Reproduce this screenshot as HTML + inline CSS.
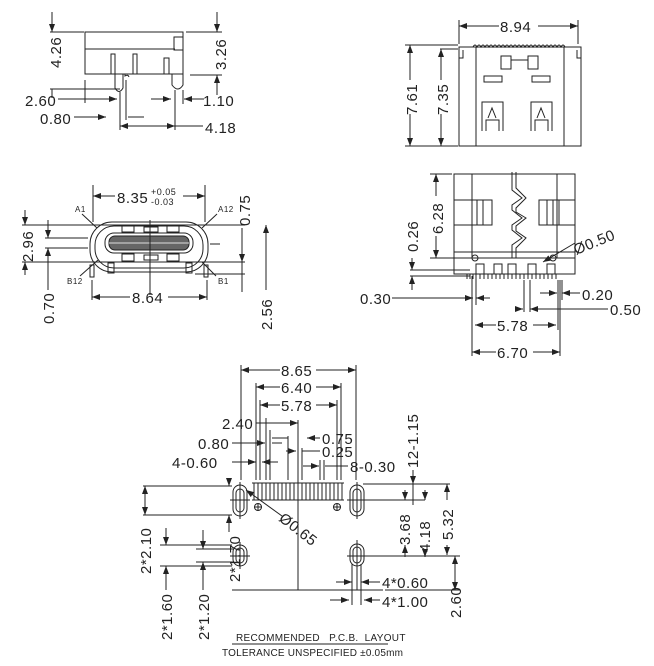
<!DOCTYPE html>
<html><head><meta charset="utf-8"><style>
html,body{margin:0;padding:0;background:#fff;width:654px;height:666px;overflow:hidden}
svg{display:block}
text{font-family:"Liberation Sans",sans-serif;fill:#222;font-size:15px;letter-spacing:0.5px}
.s{font-size:7px}
line,rect,path,ellipse,circle,polyline{stroke:#222;stroke-width:1;fill:none}
</style></head><body>
<svg width="654" height="666" viewBox="0 0 654 666">
<defs><marker id="a" markerWidth="8" markerHeight="6" refX="8" refY="3" orient="auto-start-reverse"><path d="M0,0 L8,3 L0,6 z" style="fill:#222;stroke:none"/></marker></defs>

<!-- TOP LEFT side view -->
<rect x="85" y="32" width="98" height="42"/>
<line x1="85" y1="49" x2="175" y2="49"/>
<rect x="174" y="37" width="9" height="13"/>
<rect x="111" y="54" width="4" height="20"/><rect x="133" y="54" width="4" height="20"/>
<rect x="164" y="58" width="5" height="16"/>
<path d="M115,74 L115,88 Q119,95 123,88 L123,74 M125,74 L125,76 Q128,74 129,77"/>
<path d="M172,74 L172,85 Q178,93 183,85 L183,74"/>
<line x1="50" y1="32" x2="84" y2="32"/><line x1="186" y1="32" x2="222" y2="32"/>
<line x1="52" y1="12" x2="52" y2="32" marker-end="url(#a)"/><line x1="52" y1="89" x2="52" y2="98"/>
<line x1="50" y1="89" x2="120" y2="89"/>
<text transform="translate(61,68) rotate(-90)">4.26</text>
<line x1="217" y1="12" x2="217" y2="32" marker-end="url(#a)"/>
<line x1="190" y1="75" x2="222" y2="75"/><line x1="217" y1="95" x2="217" y2="75" marker-end="url(#a)"/>
<text transform="translate(226,70) rotate(-90)">3.26</text>
<text x="25" y="106">2.60</text><line x1="58" y1="99" x2="98" y2="99"/>
<line x1="85" y1="80" x2="85" y2="103"/><line x1="98" y1="99" x2="117" y2="99" marker-end="url(#a)"/>
<text x="40" y="124">0.80</text><line x1="74" y1="117" x2="106" y2="117" marker-end="url(#a)"/>
<line x1="120" y1="92" x2="120" y2="130"/><line x1="126" y1="80" x2="126" y2="120"/>
<line x1="128" y1="117" x2="144" y2="117"/>
<line x1="151" y1="99" x2="171" y2="99" marker-end="url(#a)"/><line x1="204" y1="99" x2="184" y2="99" marker-end="url(#a)"/>
<line x1="175" y1="90" x2="175" y2="130"/><line x1="183" y1="90" x2="183" y2="104"/>
<text x="203" y="106">1.10</text>
<line x1="120" y1="126" x2="175" y2="126" marker-start="url(#a)" marker-end="url(#a)"/>
<line x1="175" y1="126" x2="203" y2="126"/><text x="205" y="133">4.18</text>

<!-- BOTTOM LEFT front view -->
<rect x="90" y="222" width="118" height="50" rx="22"/>
<rect x="95" y="226" width="108" height="42" rx="19"/>
<rect x="105" y="233" width="88" height="20" rx="9"/>
<rect x="109" y="236" width="80" height="14" rx="6" style="fill:#666"/>
<line x1="109" y1="243" x2="189" y2="243" style="stroke:#ddd"/>
<rect x="122" y="225" width="12" height="7"/><rect x="144" y="227" width="14" height="5"/><rect x="167" y="225" width="12" height="7"/>
<rect x="122" y="254" width="12" height="7"/><rect x="144" y="255" width="14" height="5"/><rect x="167" y="254" width="12" height="7"/>
<rect x="108" y="263" width="6" height="10"/><rect x="186" y="263" width="6" height="10"/>
<rect x="90" y="265" width="4" height="12"/><rect x="204" y="265" width="4" height="12"/>
<line x1="150" y1="220" x2="150" y2="295"/>
<line x1="93" y1="185" x2="93" y2="222"/><line x1="205" y1="185" x2="205" y2="222"/>
<line x1="93" y1="196" x2="115" y2="196" marker-start="url(#a)"/><line x1="183" y1="196" x2="205" y2="196" marker-end="url(#a)"/>
<text x="117" y="203">8.35</text><text class="s" x="151" y="195" style="font-size:9px">+0.05</text><text x="151" y="205" style="font-size:9px">-0.03</text>
<text x="75" y="212" style="font-size:8px">A1</text><line x1="82" y1="214" x2="97" y2="228"/>
<text x="218" y="212" style="font-size:8px">A12</text><line x1="217" y1="214" x2="202" y2="228"/>
<text x="67" y="284" style="font-size:8px">B12</text><line x1="80" y1="276" x2="98" y2="260"/>
<text x="218" y="284" style="font-size:8px">B1</text><line x1="216" y1="276" x2="202" y2="262"/>
<line x1="22" y1="225" x2="245" y2="225"/><line x1="22" y1="262" x2="245" y2="262"/>
<line x1="25" y1="210" x2="25" y2="225" marker-end="url(#a)"/><line x1="25" y1="275" x2="25" y2="262" marker-end="url(#a)"/>
<text transform="translate(33,262) rotate(-90)">2.96</text>
<line x1="45" y1="238" x2="88" y2="238"/><line x1="45" y1="248" x2="88" y2="248"/>
<line x1="48" y1="220" x2="48" y2="238" marker-end="url(#a)"/><line x1="48" y1="264" x2="48" y2="248" marker-end="url(#a)"/>
<line x1="48" y1="264" x2="48" y2="290"/>
<text transform="translate(54,324) rotate(-90)">0.70</text>
<line x1="210" y1="244" x2="220" y2="244"/>
<line x1="242" y1="228" x2="242" y2="262" marker-end="url(#a)"/><line x1="242" y1="262" x2="242" y2="292"/>
<line x1="195" y1="274" x2="245" y2="274"/>
<text transform="translate(250,226) rotate(-90)">0.75</text>
<line x1="266" y1="225" x2="266" y2="259" marker-start="url(#a)"/><line x1="266" y1="259" x2="266" y2="290"/>
<text transform="translate(272,330) rotate(-90)">2.56</text>
<line x1="92" y1="280" x2="92" y2="300"/><line x1="207" y1="280" x2="207" y2="300"/>
<line x1="92" y1="297" x2="130" y2="297" marker-start="url(#a)"/><line x1="168" y1="297" x2="207" y2="297" marker-end="url(#a)"/>
<text x="132" y="303">8.64</text>

<!-- TOP RIGHT -->
<rect x="459" y="47" width="122" height="99"/>
<path d="M459,47 L459,58 L463,58 L463,50" /><path d="M581,47 L581,58 L577,58 L577,50"/>
<line x1="476" y1="47" x2="476" y2="146"/><line x1="564" y1="47" x2="564" y2="146"/>
<path d="M473,47 q2,-4 4,0 q2,-4 4,0 q2,-4 4,0 q2,-4 4,0 q2,-4 4,0 q2,-4 4,0 q2,-4 4,0 q2,-4 4,0 q2,-4 4,0 q2,-4 4,0 q2,-4 4,0 q2,-4 4,0 q2,-4 4,0 q2,-4 4,0 q2,-4 4,0 q2,-4 4,0 q2,-4 4,0 q2,-4 4,0 q2,-4 4,0 q2,-4 4,0 q2,-4 4,0 q2,-4 4,0 q2,-4 4,0"/>
<rect x="501" y="56" width="10" height="13"/><rect x="528" y="56" width="10" height="13"/><line x1="511" y1="60" x2="528" y2="60"/>
<rect x="484" y="76" width="18" height="6"/><rect x="532" y="76" width="18" height="6"/>
<path d="M482,131 L482,102 L503,102 L503,131 M486,131 L486,120 L499,120 L499,131 M488,118 L492,108 L496,118"/>
<path d="M531,131 L531,102 L552,102 L552,131 M535,131 L535,120 L548,120 L548,131 M537,118 L541,108 L545,118"/>
<line x1="459" y1="20" x2="459" y2="44"/><line x1="578" y1="20" x2="578" y2="44"/>
<line x1="459" y1="26" x2="499" y2="26" marker-start="url(#a)"/><line x1="538" y1="26" x2="578" y2="26" marker-end="url(#a)"/>
<text x="500" y="32">8.94</text>
<line x1="405" y1="45" x2="458" y2="45"/><line x1="405" y1="146" x2="458" y2="146"/><line x1="440" y1="49" x2="458" y2="49"/>
<line x1="410" y1="45" x2="410" y2="80" marker-start="url(#a)"/><line x1="410" y1="114" x2="410" y2="146" marker-end="url(#a)"/>
<text transform="translate(417,115) rotate(-90)">7.61</text>
<line x1="441" y1="49" x2="441" y2="80" marker-start="url(#a)"/><line x1="441" y1="114" x2="441" y2="146" marker-end="url(#a)"/>
<text transform="translate(448,115) rotate(-90)">7.35</text>

<!-- MIDDLE RIGHT -->
<rect x="454" y="174" width="121" height="84"/>
<line x1="472" y1="174" x2="472" y2="258"/><line x1="557" y1="174" x2="557" y2="258"/>
<path d="M512,172 L512,190 L522,198 L512,205 L512,210 L522,218 L512,225 L512,230 L522,238 L512,245 L512,258"/>
<path d="M516,172 L516,188 L526,198 L516,208 L516,212 L526,218 L516,226 L516,231 L526,238 L516,248 L516,258"/>
<rect x="454" y="200" width="18" height="25"/><rect x="472" y="200" width="20" height="25"/>
<rect x="539" y="200" width="20" height="25"/><rect x="557" y="200" width="18" height="25"/>
<line x1="477" y1="200" x2="477" y2="225"/><line x1="483" y1="200" x2="483" y2="225"/>
<line x1="547" y1="200" x2="547" y2="225"/><line x1="553" y1="200" x2="553" y2="225"/>
<rect x="454" y="252" width="121" height="22"/>
<circle cx="475" cy="258" r="3"/><circle cx="553" cy="258" r="3"/>
<rect x="476" y="264" width="8" height="10"/><rect x="494" y="264" width="8" height="10"/><rect x="508" y="264" width="8" height="10"/><rect x="528" y="264" width="8" height="10"/><rect x="547" y="264" width="8" height="10"/>
<path d="M467,274 v5 M470,274 v5 M473,274 v5 M476,274 v5 M480,274 v5 M484,274 v5 M488,274 v5 M492,274 v5 M496,274 v5 M500,274 v5 M504,274 v5 M508,274 v5 M512,274 v5 M516,274 v5 M520,274 v5 M524,274 v5 M528,274 v5 M532,274 v5 M536,274 v5 M540,274 v5 M544,274 v5 M548,274 v5 M552,274 v5 M556,274 v5"/>
<line x1="430" y1="174" x2="452" y2="174"/><line x1="430" y1="258" x2="475" y2="258"/>
<line x1="436" y1="174" x2="436" y2="196" marker-start="url(#a)"/><line x1="436" y1="236" x2="436" y2="258" marker-end="url(#a)"/>
<text transform="translate(443,234) rotate(-90)">6.28</text>
<text transform="translate(418,252) rotate(-90)">0.26</text>
<line x1="410" y1="270" x2="470" y2="270"/><line x1="410" y1="276" x2="470" y2="276"/>
<line x1="412" y1="258" x2="412" y2="270" marker-end="url(#a)"/><line x1="412" y1="290" x2="412" y2="276" marker-end="url(#a)"/>
<text transform="translate(576,255) rotate(-22)">Ø0.50</text>
<line x1="575" y1="243" x2="543" y2="262" marker-end="url(#a)"/>
<text x="360" y="304">0.30</text><line x1="392" y1="298" x2="473" y2="298" marker-end="url(#a)"/>
<line x1="472" y1="276" x2="472" y2="356"/><line x1="476" y1="276" x2="476" y2="305"/><line x1="476" y1="298" x2="490" y2="298" marker-start="url(#a)"/>
<text x="582" y="300">0.20</text><line x1="540" y1="293" x2="557" y2="293" marker-end="url(#a)"/><line x1="580" y1="293" x2="562" y2="293" marker-end="url(#a)"/>
<line x1="558" y1="280" x2="558" y2="330"/><line x1="562" y1="280" x2="562" y2="300"/>
<text x="610" y="315">0.50</text><line x1="515" y1="309" x2="523" y2="309" marker-end="url(#a)"/><line x1="608" y1="309" x2="530" y2="309" marker-end="url(#a)"/>
<line x1="524" y1="280" x2="524" y2="312"/><line x1="530" y1="280" x2="530" y2="312"/>
<line x1="475" y1="325" x2="496" y2="325" marker-start="url(#a)"/><line x1="533" y1="325" x2="556" y2="325" marker-end="url(#a)"/>
<text x="497" y="331">5.78</text>
<line x1="560" y1="280" x2="560" y2="356"/>
<line x1="472" y1="352" x2="496" y2="352" marker-start="url(#a)"/><line x1="533" y1="352" x2="560" y2="352" marker-end="url(#a)"/>
<text x="497" y="358">6.70</text>

<!-- PCB LAYOUT -->
<line x1="241" y1="365" x2="241" y2="480"/><line x1="356" y1="365" x2="356" y2="480"/>
<line x1="241" y1="370" x2="280" y2="370" marker-start="url(#a)"/><line x1="316" y1="370" x2="356" y2="370" marker-end="url(#a)"/>
<text x="281" y="376">8.65</text>
<line x1="256" y1="383" x2="256" y2="480"/><line x1="341" y1="383" x2="341" y2="480"/>
<line x1="256" y1="387" x2="280" y2="387" marker-start="url(#a)"/><line x1="316" y1="387" x2="341" y2="387" marker-end="url(#a)"/>
<text x="281" y="393">6.40</text>
<line x1="260" y1="400" x2="260" y2="480"/><line x1="337" y1="400" x2="337" y2="480"/>
<line x1="260" y1="405" x2="280" y2="405" marker-start="url(#a)"/><line x1="316" y1="405" x2="337" y2="405" marker-end="url(#a)"/>
<text x="281" y="411">5.78</text>
<text x="222" y="429">2.40</text><line x1="256" y1="423" x2="298" y2="423" marker-end="url(#a)"/><line x1="266" y1="418" x2="266" y2="480"/>
<text x="198" y="449">0.80</text><line x1="232" y1="443" x2="265" y2="443" marker-end="url(#a)"/><line x1="272" y1="443" x2="282" y2="443"/>
<line x1="270" y1="430" x2="270" y2="480"/>
<text x="172" y="468">4-0.60</text><line x1="232" y1="462" x2="256" y2="462" marker-end="url(#a)"/><line x1="262" y1="462" x2="278" y2="462" marker-start="url(#a)"/>
<line x1="272" y1="438" x2="288" y2="438"/><line x1="288" y1="436" x2="288" y2="480"/>
<line x1="298" y1="420" x2="298" y2="590"/>
<line x1="307" y1="438" x2="320" y2="438" marker-start="url(#a)"/><text x="322" y="444">0.75</text>
<line x1="286" y1="451" x2="296" y2="451" marker-end="url(#a)"/><line x1="302" y1="451" x2="320" y2="451"/><line x1="302" y1="448" x2="302" y2="480"/>
<text x="322" y="457">0.25</text>
<line x1="303" y1="466" x2="319" y2="466" marker-end="url(#a)"/><line x1="325" y1="466" x2="348" y2="466"/>
<line x1="320" y1="460" x2="320" y2="480"/><line x1="324" y1="460" x2="324" y2="480"/>
<text x="350" y="472">8-0.30</text>
<text transform="translate(418,468) rotate(-90)">12-1.15</text>
<!-- pads row -->
<path d="M252,483 h92 M252,500 h92"/>
<path d="M254,483 v17 M258,483 v17 M262,483 v17 M266,483 v17 M270,483 v17 M274,483 v17 M278,483 v17 M282,483 v17 M286,483 v17 M290,483 v17 M294,483 v17 M298,483 v17 M302,483 v17 M306,483 v17 M310,483 v17 M314,483 v17 M318,483 v17 M322,483 v17 M326,483 v17 M330,483 v17 M334,483 v17 M338,483 v17 M342,483 v17"/>
<circle cx="258" cy="507" r="3.5"/><line x1="254" y1="507" x2="262" y2="507"/><line x1="258" y1="503" x2="258" y2="511"/>
<circle cx="337" cy="507" r="3.5"/><line x1="333" y1="507" x2="341" y2="507"/><line x1="337" y1="503" x2="337" y2="511"/>
<rect x="233" y="485" width="14" height="31" rx="7"/><rect x="236" y="489" width="8" height="23" rx="4"/>
<line x1="240" y1="482" x2="240" y2="519"/><line x1="230" y1="500" x2="250" y2="500"/>
<rect x="350" y="485" width="14" height="31" rx="7"/><rect x="353" y="489" width="8" height="23" rx="4"/>
<line x1="357" y1="482" x2="357" y2="519"/><line x1="347" y1="500" x2="367" y2="500"/>
<rect x="233" y="545" width="14" height="21" rx="7"/><rect x="236" y="548" width="8" height="15" rx="4"/>
<line x1="240" y1="542" x2="240" y2="569"/><line x1="230" y1="556" x2="250" y2="556"/>
<rect x="350" y="544" width="14" height="22" rx="7"/><rect x="353" y="547" width="8" height="16" rx="4"/>
<line x1="347" y1="556" x2="367" y2="556"/>
<line x1="352" y1="564" x2="352" y2="605"/><line x1="361" y1="564" x2="361" y2="605"/>
<line x1="357" y1="540" x2="357" y2="590"/>
<line x1="232" y1="590" x2="383" y2="590"/>
<line x1="143" y1="486" x2="232" y2="486"/><line x1="143" y1="515" x2="232" y2="515"/>
<line x1="145" y1="486" x2="145" y2="515" marker-start="url(#a)" marker-end="url(#a)"/>
<line x1="229" y1="478" x2="229" y2="486" marker-end="url(#a)"/><line x1="229" y1="523" x2="229" y2="515" marker-end="url(#a)"/>
<line x1="229" y1="523" x2="229" y2="532"/>
<text transform="translate(151,574) rotate(-90)">2*2.10</text>
<text transform="translate(240,582) rotate(-90)">2*1.70</text>
<line x1="160" y1="545" x2="232" y2="545"/><line x1="160" y1="566" x2="232" y2="566"/>
<line x1="166" y1="528" x2="166" y2="545" marker-end="url(#a)"/><line x1="166" y1="590" x2="166" y2="566" marker-end="url(#a)"/>
<text transform="translate(172,640) rotate(-90)">2*1.60</text>
<line x1="203" y1="530" x2="203" y2="549" marker-end="url(#a)"/><line x1="203" y1="590" x2="203" y2="562" marker-end="url(#a)"/>
<line x1="196" y1="549" x2="233" y2="549"/><line x1="196" y1="562" x2="233" y2="562"/>
<text transform="translate(209,640) rotate(-90)">2*1.20</text>
<line x1="246" y1="490" x2="282" y2="516" marker-start="url(#a)"/>
<text transform="translate(278,520) rotate(38)">Ø0.65</text>
<line x1="363" y1="484" x2="450" y2="484"/><line x1="363" y1="500" x2="425" y2="500"/>
<line x1="405" y1="490" x2="405" y2="500" marker-end="url(#a)"/><line x1="405" y1="545" x2="405" y2="557" marker-start="url(#a)"/>
<text transform="translate(410,545) rotate(-90)">3.68</text>
<line x1="425" y1="490" x2="425" y2="500" marker-end="url(#a)"/><line x1="425" y1="557" x2="425" y2="555" marker-start="url(#a)"/>
<text transform="translate(430,552) rotate(-90)">4.18</text>
<line x1="413" y1="470" x2="413" y2="484" marker-end="url(#a)"/><line x1="413" y1="484" x2="413" y2="505"/>
<line x1="447" y1="484" x2="447" y2="500" marker-start="url(#a)"/><line x1="447" y1="545" x2="447" y2="555" marker-end="url(#a)"/>
<text transform="translate(453,540) rotate(-90)">5.32</text>
<line x1="363" y1="556" x2="460" y2="556"/>
<line x1="455" y1="556" x2="455" y2="590" marker-start="url(#a)" marker-end="url(#a)"/>
<text transform="translate(461,618) rotate(-90)">2.60</text>
<line x1="385" y1="590" x2="460" y2="590"/>
<line x1="336" y1="582" x2="352" y2="582" marker-end="url(#a)"/><line x1="380" y1="582" x2="361" y2="582" marker-end="url(#a)"/>
<text x="382" y="588">4*0.60</text>
<line x1="330" y1="600" x2="349" y2="600" marker-end="url(#a)"/><line x1="380" y1="600" x2="364" y2="600" marker-end="url(#a)"/>
<text x="382" y="607">4*1.00</text>
<text x="236" y="641" style="font-size:10px;letter-spacing:0.3px">RECOMMENDED&#160;&#160;&#160;P.C.B.&#160;&#160;LAYOUT</text>
<line x1="232" y1="644" x2="388" y2="644"/>
<text x="222" y="656" style="font-size:10px;letter-spacing:0.2px">TOLERANCE UNSPECIFIED ±0.05mm</text>
</svg>
</body></html>
